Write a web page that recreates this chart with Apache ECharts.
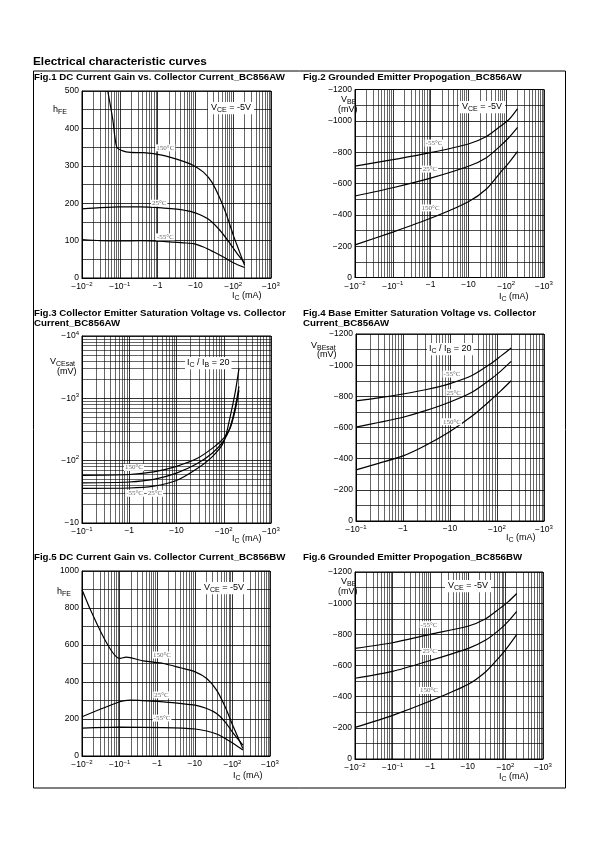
<!DOCTYPE html>
<html><head><meta charset="utf-8">
<script src="https://cdn.jsdelivr.net/npm/echarts@6/dist/echarts.min.js"></script>
<style>html,body{margin:0;padding:0;background:#fff}#c{width:595px;height:842px}</style>
</head><body><div id="c"></div>
<script>
// ---------- Fig.1 DC current gain BC856AW ----------
const f1_x150 = [0.048, 0.065, 0.083, 0.12, 0.19, 0.42, 1.2, 4.8, 8.9, 16.3, 27, 45, 67, 101, 137, 200];
const f1_y150 = [500, 425, 350, 340, 336, 335, 329, 312, 301, 283, 257, 212, 168, 114, 78, 34];
const f1_x25 = [0.01, 0.03, 0.1, 0.35, 1.44, 3.2, 7.3, 13.3, 24.5, 45, 83, 137, 200];
const f1_y25 = [185, 188, 190, 190, 187, 184, 178, 169, 154, 127, 92, 61, 40];
const f1_xm55 = [0.01, 0.03, 0.1, 0.35, 1.44, 4.8, 8.9, 16.3, 30, 55, 101, 200];
const f1_ym55 = [103, 100, 99, 100, 98, 94, 92, 83, 70, 56, 41, 28];
const f1_labels = [[1.6, 348, '150\u00b0C'], [1.1, 200, '25\u00b0C'], [1.6, 110, '-55\u00b0C']];

// ---------- Fig.2 Grounded emitter propagation BC856AW ----------
const f2_x = [0.01, 0.1, 1, 10, 30, 70, 120, 200];
const f2_ym55 = [-711, -752, -797, -852, -900, -965, -1010, -1078];
const f2_y25 = [-520, -573, -634, -710, -765, -840, -895, -958];
const f2_y150 = [-208, -290, -378, -484, -565, -670, -735, -805];
const f2_labels = [[1.23, -858, '-55\u00b0C'], [0.96, -692, '25\u00b0C'], [1.0, -444, '150\u00b0C']];

// ---------- Fig.3 VCEsat BC856AW ----------
const f3_x = [0.1, 1, 3.3, 10, 27, 56, 100, 136, 175, 210];
const f3_ym55 = [36, 36.4, 39, 48, 74, 114, 200, 500, 1260, 3000];
const f3_y25 = [44, 45.5, 50, 63, 89, 130, 210, 340, 720, 1550];
const f3_y150 = [58, 60, 66, 81, 108, 156, 230, 330, 650, 1350];
const f3_labels = [[1.26, 78, '150\u00b0C'], [1.3, 30, '-55\u00b0C'], [3.5, 30, '25\u00b0C']];

// ---------- Fig.4 VBEsat BC856AW ----------
const f4_x = [0.1, 0.3, 1, 3, 10, 30, 70, 120, 200];
const f4_ym55 = [-771, -790, -815, -842, -882, -935, -1005, -1058, -1110];
const f4_y25 = [-602, -632, -666, -708, -764, -828, -905, -962, -1024];
const f4_y150 = [-328, -370, -418, -485, -575, -675, -770, -835, -900];
const f4_labels = [[11, -943, '-55\u00b0C'], [12, -823, '25\u00b0C'], [11, -637, '150\u00b0C']];

// ---------- Fig.5 DC current gain BC856BW ----------
const f5_x150 = [0.01, 0.1, 0.15, 0.19, 0.43, 1.47, 4.1, 10.2, 20.8, 38, 64, 106, 190];
const f5_y150 = [899, 527, 534, 532, 514, 500, 477, 455, 419, 356, 266, 158, 41];
const f5_x25 = [0.01, 0.1, 0.19, 1.47, 4.1, 10.2, 20.8, 38, 64, 106, 190];
const f5_y25 = [212, 293, 302, 293, 284, 275, 257, 230, 185, 122, 59];
const f5_xm55 = [0.01, 0.1, 1.47, 10.2, 20.8, 38, 64, 106, 190];
const f5_ym55 = [151, 156, 153, 146, 135, 119, 95, 68, 32];
const f5_labels = [[1.34, 546, '150\u00b0C'], [1.3, 330, '25\u00b0C'], [1.34, 205, '-55\u00b0C']];

// ---------- Fig.6 Grounded emitter propagation BC856BW ----------
const f6_x = [0.01, 0.1, 1, 10, 30, 70, 120, 200];
const f6_ym55 = [-710, -746, -800, -852, -900, -965, -1010, -1062];
const f6_y25 = [-518, -562, -632, -708, -763, -830, -885, -948];
const f6_y150 = [-203, -280, -372, -478, -560, -655, -725, -798];
const f6_labels = [[0.93, -862, '-55\u00b0C'], [0.97, -690, '25\u00b0C'], [0.93, -440, '150\u00b0C']];

const FONT = '"Liberation Sans", Arial, sans-serif';
const zip = (xs, ys) => xs.map((x, i) => [x, ys[i]]);

function expLabel(v) {
  const n = Math.round(Math.log10(v));
  if (n === 0) return '\u22121';
  if (n === 1) return '\u221210';
  return '\u221210{s|' + (n < 0 ? '\u2212' : '') + Math.abs(n) + '}';
}
function negLabel(v) { return v === 0 ? '0' : '\u2212' + Math.abs(v); }
function logMinors(lo, hi) {
  const out = [];
  for (let n = lo; n < hi; n++) for (let k = 2; k <= 9; k++) out.push(k * Math.pow(10, n));
  return out;
}

const grids = [
  {left: 82, top: 91, width: 189, height: 187},
  {left: 355, top: 89.5, width: 189, height: 188},
  {left: 82, top: 336, width: 189, height: 187},
  {left: 356, top: 334, width: 188, height: 187},
  {left: 82, top: 571, width: 188, height: 185},
  {left: 355, top: 572, width: 188, height: 187}
].map(g => Object.assign({show: true, borderColor: '#000', borderWidth: 1, backgroundColor: 'transparent'}, g));

const labelBase = {color: '#000', fontSize: 8.5, fontFamily: FONT, rich: {s: {fontSize: 6, fontFamily: FONT, padding: [0, 0, 6, 0]}}};
const gridLine = {show: true, lineStyle: {color: '#000', width: 0.8}};

function xLog(i, min) {
  return {gridIndex: i, type: 'log', logBase: 10, min: min, max: 1000,
    axisLine: {show: true, lineStyle: {color: '#000'}}, axisTick: {show: false},
    axisLabel: Object.assign({formatter: expLabel, margin: 3}, labelBase),
    splitLine: gridLine};
}
function yLin(i, min, max, interval, inverse, fmt) {
  return {gridIndex: i, type: 'value', min: min, max: max, interval: interval, inverse: !!inverse,
    axisLine: {show: true, lineStyle: {color: '#000'}}, axisTick: {show: false},
    axisLabel: Object.assign({formatter: fmt, margin: 3}, labelBase),
    splitLine: gridLine,
    minorTick: {show: false, splitNumber: 2},
    minorSplitLine: {show: true, lineStyle: {color: '#000', width: 0.7}}};
}
function yLog(i) {
  return {gridIndex: i, type: 'log', logBase: 10, min: 10, max: 10000,
    axisLine: {show: true, lineStyle: {color: '#000'}}, axisTick: {show: false},
    axisLabel: Object.assign({formatter: expLabel, margin: 3}, labelBase),
    splitLine: gridLine};
}

const xAxes = [xLog(0, 0.01), xLog(1, 0.01), xLog(2, 0.1), xLog(3, 0.1), xLog(4, 0.01), xLog(5, 0.01)];
const yAxes = [
  yLin(0, 0, 500, 100, false, v => String(v)),
  yLin(1, -1200, 0, 200, true, negLabel),
  yLog(2),
  yLin(3, -1200, 0, 200, true, negLabel),
  yLin(4, 0, 1000, 200, false, v => String(v)),
  yLin(5, -1200, 0, 200, true, negLabel)
];

function minorSeries(i, xlo, ylog) {
  const data = logMinors(xlo, 3).map(v => ({xAxis: v}));
  if (ylog) logMinors(1, 4).forEach(v => data.push({yAxis: v}));
  return {type: 'line', xAxisIndex: i, yAxisIndex: i, data: [], z: 1, silent: true,
    markLine: {silent: true, symbol: ['none', 'none'], label: {show: false}, animation: false,
      lineStyle: {color: '#000', width: 0.6, type: 'solid'}, emphasis: {disabled: true}, data: data}};
}
function curve(i, data, lab) {
  const s = {type: 'line', xAxisIndex: i, yAxisIndex: i, data: data, showSymbol: false, symbol: 'none',
    smooth: 0.25, z: 3, silent: true,
    lineStyle: {color: '#000', width: 1.2}};
  if (lab) {
    s.markPoint = {symbol: 'circle', symbolSize: 0, silent: true, animation: false,
      label: {show: true, position: 'inside', formatter: lab[2], color: '#666', fontSize: 7,
        fontFamily: '"Liberation Serif", serif', backgroundColor: '#fff', padding: [0, 1]},
      data: [{coord: [lab[0], lab[1]]}]};
  }
  return s;
}

const series = [
  minorSeries(0, -2, false), minorSeries(1, -2, false), minorSeries(2, -1, true),
  minorSeries(3, -1, false), minorSeries(4, -2, false), minorSeries(5, -2, false),
  curve(0, zip(f1_x150, f1_y150), f1_labels[0]), curve(0, zip(f1_x25, f1_y25), f1_labels[1]), curve(0, zip(f1_xm55, f1_ym55), f1_labels[2]),
  curve(1, zip(f2_x, f2_ym55), f2_labels[0]), curve(1, zip(f2_x, f2_y25), f2_labels[1]), curve(1, zip(f2_x, f2_y150), f2_labels[2]),
  curve(2, zip(f3_x, f3_y150), f3_labels[0]), curve(2, zip(f3_x, f3_ym55), f3_labels[1]), curve(2, zip(f3_x, f3_y25), f3_labels[2]),
  curve(3, zip(f4_x, f4_ym55), f4_labels[0]), curve(3, zip(f4_x, f4_y25), f4_labels[1]), curve(3, zip(f4_x, f4_y150), f4_labels[2]),
  curve(4, zip(f5_x150, f5_y150), f5_labels[0]), curve(4, zip(f5_x25, f5_y25), f5_labels[1]), curve(4, zip(f5_xm55, f5_ym55), f5_labels[2]),
  curve(5, zip(f6_x, f6_ym55), f6_labels[0]), curve(5, zip(f6_x, f6_y25), f6_labels[1]), curve(5, zip(f6_x, f6_y150), f6_labels[2])
];

const subRich = {sub: {fontSize: 7, fontFamily: FONT, color: '#000', padding: [5, 0, 0, 0]}};
function T(text, left, top, opts) {
  opts = opts || {};
  return {text: text, left: left, top: top, padding: opts.padding || 0, itemGap: 0,
    backgroundColor: opts.bg || 'transparent', z: 10,
    textStyle: {fontFamily: FONT, fontSize: opts.size || 9, fontWeight: opts.bold ? 'bold' : 'normal',
      color: '#000', lineHeight: opts.lh || (opts.size || 9) + 1.5,
      rich: Object.assign({}, subRich, opts.rich || {})}};
}
const titles = [
  T('Electrical characteristic curves', 33, 55.5, {size: 11.8, bold: true, lh: 13}),
  T('Fig.1 DC Current Gain vs. Collector Current_BC856AW', 34, 72.5, {size: 9.7, bold: true, lh: 10}),
  T('Fig.2 Grounded Emitter Propogation_BC856AW', 303, 72, {size: 9.7, bold: true, lh: 10}),
  T('Fig.3 Collector Emitter Saturation Voltage vs. Collector\nCurrent_BC856AW', 34, 308, {size: 9.7, bold: true, lh: 10.5}),
  T('Fig.4 Base Emitter Saturation Voltage vs. Collector\nCurrent_BC856AW', 303, 308, {size: 9.7, bold: true, lh: 10.5}),
  T('Fig.5 DC Current Gain vs. Collector Current_BC856BW', 34, 552, {size: 9.7, bold: true, lh: 10}),
  T('Fig.6 Grounded Emitter Propogation_BC856BW', 303, 552, {size: 9.7, bold: true, lh: 10}),
  // y-axis names
  T('h{sub|FE}', 53, 104),
  T('V{sub|BE}', 341, 94), T('(mV)', 338, 104),
  T('V{sub|CEsat}', 50, 356), T('(mV)', 57, 366),
  T('V{sub|BEsat}', 311, 340), T('(mV)', 317, 349),
  T('h{sub|FE}', 57, 586),
  T('V{sub|BE}', 341, 576), T('(mV)', 338, 586),
  // x-axis names
  T('I{sub|C} (mA)', 232, 290), T('I{sub|C} (mA)', 499, 291), T('I{sub|C} (mA)', 232, 533),
  T('I{sub|C} (mA)', 506, 532), T('I{sub|C} (mA)', 233, 770), T('I{sub|C} (mA)', 499, 771),
  // condition boxes
  T('V{sub|CE} = -5V', 208, 102, {bg: '#fff', padding: [0, 3, 1, 3]}),
  T('V{sub|CE} = -5V', 459, 101, {bg: '#fff', padding: [0, 3, 1, 3]}),
  T('I{sub|C} / I{sub|B} = 20', 185, 357, {bg: '#fff', padding: [0, 2, 1, 2]}),
  T('I{sub|C} / I{sub|B} = 20', 427, 343, {bg: '#fff', padding: [0, 2, 1, 2]}),
  T('V{sub|CE} = -5V', 201, 582, {bg: '#fff', padding: [0, 3, 1, 3]}),
  T('V{sub|CE} = -5V', 445, 580, {bg: '#fff', padding: [0, 3, 1, 3]})
];

const chart = echarts.init(document.getElementById('c'), null, {renderer: 'canvas'});
chart.setOption({
  animation: false,
  backgroundColor: '#fff',
  title: titles,
  grid: grids,
  xAxis: xAxes,
  yAxis: yAxes,
  series: series,
  graphic: [{type: 'rect', shape: {x: 33.5, y: 71, width: 532, height: 717}, z: 0,
    style: {fill: 'none', stroke: '#000', lineWidth: 1}, silent: true}]
});
</script></body></html>
